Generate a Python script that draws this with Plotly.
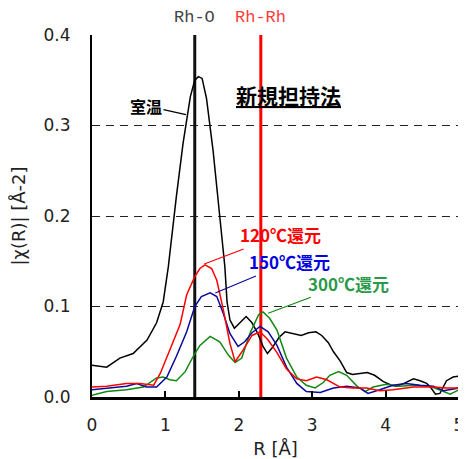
import plotly.graph_objects as go

# Room temperature (室温)
r_rt = [0, 0.2, 0.38, 0.56, 0.75, 0.88, 0.97, 1.04, 1.15, 1.24, 1.34, 1.40, 1.45, 1.50, 1.56, 1.65, 1.74, 1.81,
        1.84, 1.88, 1.94, 2.02, 2.10, 2.18, 2.26, 2.33, 2.39, 2.46, 2.55, 2.63, 2.75, 2.85, 2.95, 3.05, 3.13,
        3.22, 3.29, 3.38, 3.47, 3.55, 3.65, 3.75, 3.85, 3.97, 4.08, 4.15, 4.25, 4.38, 4.47, 4.56, 4.62, 4.68,
        4.74, 4.83, 4.92, 5.0]
v_rt = [0.035, 0.033, 0.043, 0.048, 0.063, 0.082, 0.105, 0.144, 0.222, 0.280, 0.332, 0.350, 0.354, 0.352,
        0.330, 0.272, 0.200, 0.144, 0.105, 0.085, 0.076, 0.083, 0.089, 0.082, 0.070, 0.056, 0.048, 0.055,
        0.066, 0.072, 0.070, 0.068, 0.071, 0.072, 0.068, 0.060, 0.050, 0.040, 0.027, 0.025, 0.026, 0.027,
        0.024, 0.017, 0.013, 0.012, 0.015, 0.020, 0.018, 0.015, 0.010, 0.003, 0.004, 0.018, 0.022, 0.023]

# 120℃還元
r_120 = [0, 0.2, 0.47, 0.65, 0.84, 0.93, 1.06, 1.20, 1.29, 1.40, 1.47, 1.54, 1.63, 1.70, 1.79, 1.88, 1.95,
         2.06, 2.18, 2.29, 2.40, 2.52, 2.65, 2.79, 2.92, 3.06, 3.20, 3.38, 3.56, 3.74, 3.92, 4.10, 4.38,
         4.65, 4.83, 5.0]
v_120 = [0.011, 0.012, 0.015, 0.015, 0.013, 0.026, 0.052, 0.080, 0.113, 0.133, 0.142, 0.146, 0.142, 0.129,
         0.096, 0.059, 0.039, 0.052, 0.068, 0.072, 0.063, 0.049, 0.031, 0.020, 0.018, 0.022, 0.019, 0.011,
         0.010, 0.010, 0.007, 0.008, 0.011, 0.011, 0.010, 0.010]

# 150℃還元
r_150 = [0, 0.2, 0.47, 0.61, 0.74, 0.88, 1.02, 1.15, 1.29, 1.40, 1.49, 1.61, 1.70, 1.79, 1.88, 1.99, 2.08,
         2.18, 2.29, 2.40, 2.52, 2.65, 2.79, 2.92, 3.11, 3.29, 3.47, 3.65, 3.76, 3.92, 4.10, 4.28, 4.47,
         4.65, 4.79, 5.0]
v_150 = [0.008, 0.010, 0.012, 0.015, 0.011, 0.011, 0.022, 0.045, 0.072, 0.100, 0.111, 0.115, 0.111, 0.092,
         0.070, 0.056, 0.061, 0.071, 0.078, 0.072, 0.057, 0.033, 0.015, 0.006, 0.005, 0.010, 0.012, 0.010,
         0.004, 0.008, 0.013, 0.015, 0.013, 0.012, 0.007, 0.010]

# 300℃還元
r_300 = [0, 0.2, 0.47, 0.70, 0.88, 0.97, 1.06, 1.15, 1.27, 1.38, 1.47, 1.61, 1.74, 1.86, 1.95, 2.04, 2.15,
         2.27, 2.33, 2.42, 2.52, 2.65, 2.79, 2.92, 3.04, 3.15, 3.24, 3.36, 3.47, 3.61, 3.72, 3.83, 4.01,
         4.19, 4.38, 4.60, 4.79, 4.88, 5.0]
v_300 = [0.002, 0.006, 0.008, 0.011, 0.021, 0.022, 0.019, 0.018, 0.028, 0.045, 0.057, 0.067, 0.061, 0.046,
         0.038, 0.043, 0.070, 0.091, 0.094, 0.087, 0.074, 0.043, 0.022, 0.013, 0.010, 0.016, 0.024, 0.028,
         0.024, 0.012, 0.006, 0.011, 0.014, 0.012, 0.013, 0.012, 0.006, 0.003, 0.008]

bond_names = ["Rh-O", "Rh-Rh"]
bond_r = [1.40, 2.30]
bond_colors = ["#111111", "#ff0000"]
bond_label_colors = ["#444444", "#ff3c3c"]

x_ticks = [0, 1, 2, 3, 4, 5]
y_ticks = [0.0, 0.1, 0.2, 0.3, 0.4]
y_ticklabels = ["0.0", "0.1", "0.2", "0.3", "0.4"]

fig = go.Figure()

for b, col in zip(bond_r, bond_colors):
    fig.add_trace(go.Scatter(x=[b, b], y=[0, 0.4], mode="lines",
                             line=dict(color=col, width=3), showlegend=False, hoverinfo="skip"))

series = [
    (r_rt, v_rt, "#000000"),
    (r_300, v_300, "#118811"),
    (r_150, v_150, "#0a0a9a"),
    (r_120, v_120, "#ff0000"),
]
for rx, vy, col in series:
    fig.add_trace(go.Scatter(x=rx, y=vy, mode="lines", line=dict(color=col, width=1.5),
                             showlegend=False))

jp = "Noto Sans CJK JP"
annotations = []
for name, b, col in zip(bond_names, bond_r, bond_label_colors):
    annotations.append(dict(x=b, y=1.047, xref="x", yref="paper", text=name, showarrow=False,
                            font=dict(family="Liberation Mono", size=17, color=col),
                            xanchor="center", yanchor="middle"))

labels = [
    ("<b>室温</b>", 1.28, 0.312, -40, -9, 16, "#000000", "#000000"),
    ("<b>120℃還元</b>", 1.53, 0.147, 76, -29, 17, "#ff0000", "#ff0000"),
    ("<b>150℃還元</b>", 1.68, 0.115, 74, -31, 17, "#0000e0", "#0a0a9a"),
    ("<b>300℃還元</b>", 2.40, 0.0925, 80, -30, 17, "#2a9a4a", "#118811"),
]
for txt, x, y, ax, ay, fs, tc, lc in labels:
    annotations.append(dict(x=x, y=y, xref="x", yref="y", text=txt, showarrow=True, arrowhead=0,
                            arrowwidth=1.2, arrowcolor=lc, ax=ax, ay=ay,
                            font=dict(family=jp, size=fs, color=tc)))

annotations.append(dict(x=0.684, y=0.881, xref="paper", yref="paper", text="<b><u>新規担持法</u></b>",
                        showarrow=False, font=dict(family=jp, size=21, color="#000000")))

# The page body adds an 8px offset, so the figure is sized to fill the rest of the window.
fig.update_layout(
    width=458, height=451,
    margin=dict(l=84, r=7, t=27, b=62, autoexpand=False),
    paper_bgcolor="white", plot_bgcolor="white",
    annotations=annotations,
    xaxis=dict(range=[0, 5], tickvals=x_ticks, ticks="inside", ticklen=6, tickwidth=1.5,
               tickcolor="#000", showline=True, linecolor="#000", linewidth=3, showgrid=False,
               zeroline=False, tickfont=dict(family="DejaVu Sans", size=17, color="#222"),
               ticklabelstandoff=11, automargin=False,
               title=dict(text="R [Å]", font=dict(family="DejaVu Sans", size=18, color="#222"),
                          standoff=20)),
    yaxis=dict(range=[0, 0.4], tickvals=y_ticks, ticktext=y_ticklabels, ticks="",
               showline=True, mirror=True, linecolor="#000", linewidth=2,
               showgrid=True, gridcolor="#222", gridwidth=1, griddash="8px,6px",
               zeroline=False, tickfont=dict(family="DejaVu Sans", size=17, color="#222"),
               ticklabelstandoff=16, automargin=False,
               title=dict(text="|χ(R)| [Å-2]", font=dict(family="DejaVu Sans", size=18, color="#222"),
                          standoff=14)),
)

fig.write_html("out.html")
